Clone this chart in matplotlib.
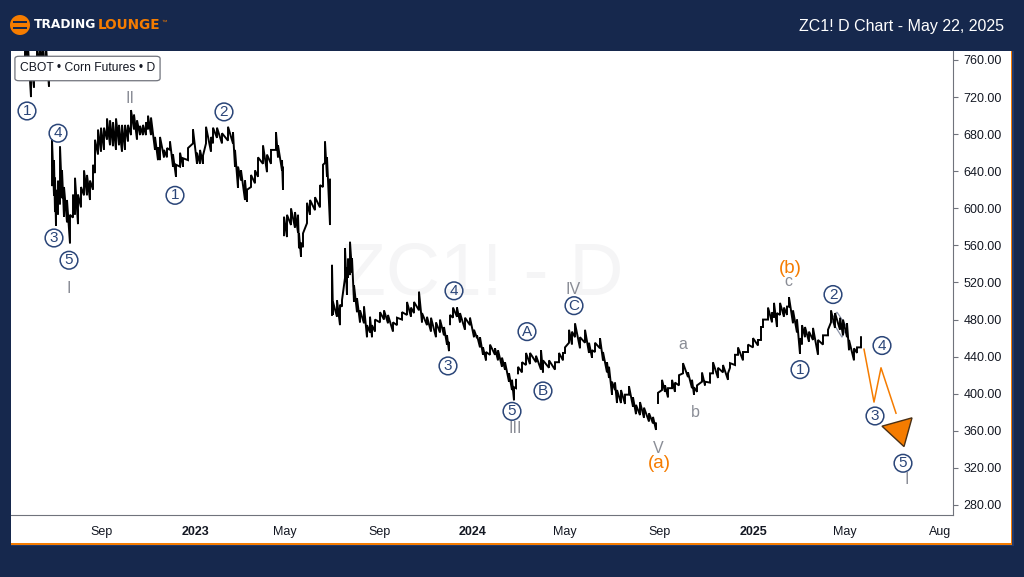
#!/usr/bin/python3
import matplotlib
matplotlib.use("Agg")
from matplotlib import pyplot as plt
from matplotlib.patches import Rectangle, Circle, Polygon, FancyBboxPatch

# time axis is counted in chart bars, price in cents per bushel
bar = [14,17,20,23,26,29,32,35,38,
       41,43,44,45,47,49,51,53,56,59,62,64,67,70,73,76,79,82,84,87,90,93,96,99,102,105,108,111,114,117,120,123,126,129,132,135,137,140,144,147,149,153,156,159,162,165,169,172,177,182,186,189,192,195,200,202,206,211,217,222,224,227,230,234,236,240,244,247,252,256,260,265,267,271,272,
       273,276,280,284,287,288,290,292,296,299,304,309,312,314,316,319,
       321,322,326,329,331,334,336,337,339,341,343,346,349,353,356,359,361,364,369,373,377,382,386,391,396,400,403,408,411,416,420,425,429,433,436,438,
       439,442,446,449,454,459,463,466,469,472,475,479,484,487,491,494,498,501,503,505,
       507,511,515,519,525,530,532,538,544,548,552,554,558,561,564,569,574,578,581,584,589,592,596,598,601,604,606,610,614,618,622,625,629,633,638,642,645,
       647,651,654,657,661,664,668,672,677,681,683,686,691,694,699,702,707,712,717,719,724,727,732,737,742,747,750,752,757,761,763,766,769,773,776,778,782,786,789,791,794,798,802,807,812,817,820,824,829,832,836,838,843,846,850]
low = [760,760,720,730,749,749,755,738,731,
       625,614,596,581,593,604,611,591,585,562,590,593,583,601,614,614,609,620,638,658,661,663,674,668,667,663,668,661,663,672,679,685,674,679,679,679,685,679,663,652,652,655,655,663,645,634,645,645,652,670,648,648,648,670,661,670,676,670,673,670,645,622,630,609,607,623,627,634,648,639,648,663,655,641,620,
       571,569,582,579,574,557,548,558,584,593,598,601,623,649,634,582,
       485,485,483,474,494,525,507,525,528,531,499,488,477,476,461,466,461,467,477,480,476,467,474,480,485,483,487,490,477,474,467,461,466,463,453,446,
       475,482,483,477,469,474,461,460,450,442,436,442,442,436,429,426,413,404,393,406,
       422,423,431,432,434,426,423,428,426,434,436,444,455,453,461,449,455,444,439,445,449,436,423,417,399,404,390,390,389,399,386,378,377,374,370,368,361,
       390,404,402,396,406,402,409,422,418,406,399,402,413,409,412,422,417,423,415,428,431,442,436,445,450,452,458,472,480,477,482,472,485,483,485,494,476,466,443,453,461,456,458,442,453,463,477,471,469,463,461,447,436,444,450]
high = [775,775,760,760,775,775,775,775,760,
        674,652,633,620,630,667,641,623,609,593,615,633,615,623,641,636,630,647,674,685,687,687,697,695,693,697,690,690,690,690,706,701,695,689,690,693,700,698,677,666,677,663,665,672,658,647,660,654,665,685,660,663,657,688,677,687,687,681,688,682,663,645,641,630,620,636,641,655,668,658,663,682,668,652,644,
        591,593,600,596,593,573,563,573,606,609,612,625,647,672,655,631,
        539,499,501,496,501,557,536,546,564,546,517,503,490,494,474,483,474,480,488,490,485,477,482,488,499,493,499,510,487,483,482,477,480,472,463,455,
        485,493,493,487,482,482,469,463,461,450,445,453,449,447,439,434,422,415,407,415,
        429,434,444,444,441,447,436,436,434,444,444,450,469,467,476,461,469,455,447,455,460,445,434,429,413,412,404,404,399,408,396,388,391,385,379,375,368,
        401,415,409,406,415,412,420,433,423,415,407,409,423,413,422,434,428,431,422,433,442,450,445,453,460,458,472,480,493,488,498,487,498,493,494,504,490,480,460,474,472,467,471,458,463,469,490,487,482,480,476,458,449,450,461]
# bars where a new contract starts and the price line breaks
rollover = [41, 273, 321, 439, 507, 647]

x_ticks = [91, 184, 274, 369, 462, 554, 649, 742, 834, 929]
x_labels = ["Sep", "2023", "May", "Sep", "2024", "May", "Sep", "2025", "May", "Aug"]
y_ticks = list(range(280, 761, 40))

# elliott wave labels
circled = ["1","4","3","5","1","2","4","3","A","B","C","5","1","2","4","3","5"]
circled_bar = [16,47,43,58,164,213,443,437,516,532,563,501,789,822,871,864,892]
circled_price = [705,681,568,544,614,704,511,430,467,403,495,381,426,507,452,376,325]

grey_wave = ["II","I","III","IV","V","a","b","c","I"]
grey_bar = [119,58,504,562,647,672,684,777,896]
grey_price = [718,514,363,512,341,453,380,521,307]

orange_wave = ["(a)", "(b)"]
orange_bar = [648, 779]
orange_price = [325, 535]

# projected path and arrow head
path_bar = [853, 863, 870, 885]
path_price = [448, 391, 428, 379]
head_bar = [871, 901, 893]
head_price = [365, 374, 343]
# small channel at wave 2
channel_bar = [820, 826, 836, 831]
channel_price = [480, 488, 472, 461]

NAVY = "#16284d"
ORANGE = "#f57c00"
BLUE = "#2a4578"
GREY = "#8a8d96"
plt.rcParams["font.family"] = ["Liberation Sans", "DejaVu Sans"]


def fx(px):
    return px / 1024


def fy(py):
    return 1 - py / 577


def panel(x0, y1, w, h, color):
    # rectangle in reference pixels, behind the axes
    fig.add_artist(Rectangle((fx(x0), fy(y1)), w/1024, h/577, transform=fig.transFigure, fc=color, ec="none", zorder=-1))


fig = plt.figure(figsize=(10.24, 5.77), dpi=100, facecolor=NAVY)

# white panel with the thin frame
panel(1012, 546, 2, 495, "#22396a")
panel(11, 546, 1003, 3, "#22396a")
panel(11, 545, 1001, 2, ORANGE)
panel(1011, 544, 1, 493, ORANGE)
panel(11, 543, 1000, 492, "white")

ax = fig.add_axes([fx(11), fy(515), 942/1024, 464/577], facecolor="white")
ax.set_xlim(0, 942)
ax.set_ylim(269.2, 769.7)
ax.spines["top"].set_visible(False)
ax.spines["left"].set_visible(False)
ax.spines["right"].set_color("#70737c")
ax.spines["bottom"].set_color("#70737c")
ax.yaxis.tick_right()
ax.set_yticks(y_ticks)
ax.set_yticklabels(["%.2f" % v for v in y_ticks], fontsize=9, color="#131722")
ax.set_xticks(x_ticks)
ax.set_xticklabels(x_labels, fontsize=9, color="#131722")
for lab in ax.get_xticklabels():
    if lab.get_text().startswith("20"):
        lab.set_fontweight("bold")
ax.tick_params(axis="x", length=0, pad=8)
ax.tick_params(axis="y", length=3.5, width=0.8, color="#70737c", pad=4)

ax.text(0.5, 0.518, "ZC1! - D", transform=ax.transAxes, ha="center", va="center",
        fontsize=54, color="#f5f5f6", zorder=0)

# price bars, joined low to high
xs, ys = [], []
for b, lo, hi in zip(bar, low, high):
    if b in rollover:
        xs.append(float("nan"))
        ys.append(float("nan"))
    xs += [b, b]
    ys += [lo, hi]
ax.plot(xs, ys, color="black", lw=1.4, solid_joinstyle="miter", zorder=2)

ax.add_patch(Polygon(list(zip(channel_bar, channel_price)), closed=True, fc="none", ec="#8b93a8", lw=0.9, zorder=1))
ax.plot(path_bar, path_price, color=ORANGE, lw=1.1, zorder=2)
ax.add_patch(Polygon(list(zip(head_bar, head_price)), closed=True, fc=ORANGE, ec="#4a3015", lw=1.0, zorder=3))

for t, b, p in zip(circled, circled_bar, circled_price):
    ax.text(b, p, t, ha="center", va="center", fontsize=11, color=BLUE, zorder=4,
            bbox=dict(boxstyle="circle,pad=0.12", fc="none", ec=BLUE, lw=1.1))
for t, b, p in zip(grey_wave, grey_bar, grey_price):
    ax.text(b, p, t, ha="center", va="center", fontsize=11.5, color=GREY, zorder=4)
for t, b, p in zip(orange_wave, orange_bar, orange_price):
    ax.text(b, p, t, ha="center", va="center", fontsize=13.5, color=ORANGE, zorder=4)

# symbol box
fig.add_artist(FancyBboxPatch((fx(18), fy(79)), 139/1024, 21/577, transform=fig.transFigure,
                              boxstyle="round,pad=0.003,rounding_size=0.004", fc="white", ec="#70737c", lw=0.9, zorder=6))
fig.text(fx(20), fy(68), "CBOT \u2022 Corn Futures \u2022 D", fontsize=8.7, color="#131722", va="center", zorder=7)

# logo and header
logo_ax = fig.add_axes([fx(9), fy(36), 22/1024, 22/577])
logo_ax.set_xlim(-11, 11)
logo_ax.set_ylim(-11, 11)
logo_ax.axis("off")
logo_ax.add_patch(Circle((0, 0), 10, fc=ORANGE, ec="none"))
logo_ax.add_patch(Rectangle((-7, 2.2), 14, 1.8, fc=NAVY, ec="none"))
logo_ax.add_patch(Rectangle((-7, -4), 14, 1.8, fc=NAVY, ec="none"))

fig.text(fx(34), fy(25), "TRADING", fontsize=8.8, fontweight="bold", family="DejaVu Sans", color="white", va="center")
fig.text(fx(98), fy(25), "LOUNGE", fontsize=9.8, fontweight="bold", family="DejaVu Sans", color=ORANGE, va="center")
fig.text(fx(162), fy(22), "\u2122", fontsize=4, color=ORANGE, va="center")
fig.text(fx(1004), fy(26), "ZC1! D Chart - May 22, 2025", fontsize=11.5, color="white", ha="right", va="center")

fig.savefig("out.png", dpi=100, facecolor=NAVY)
